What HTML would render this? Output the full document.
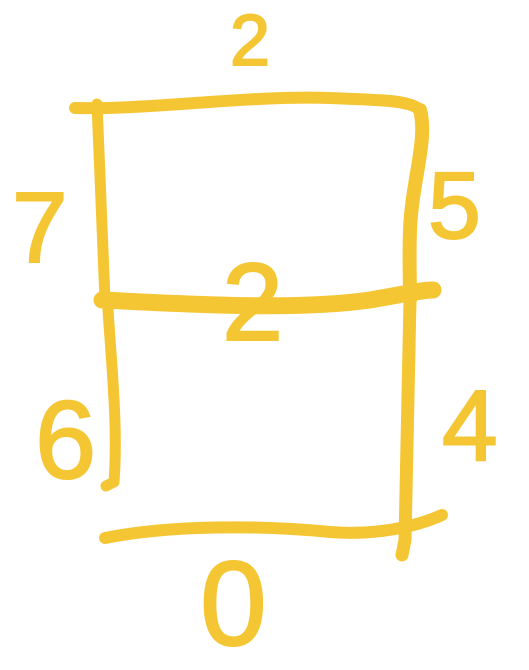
<!DOCTYPE html>
<html><head><meta charset="utf-8"><style>
html,body{margin:0;padding:0;background:#fff;width:529px;height:670px;overflow:hidden}
svg{display:block}
text{font-family:"Liberation Sans",sans-serif;fill:#F5C634;stroke:#F5C634;stroke-width:2}
</style></head><body>
<svg width="529" height="670" viewBox="0 0 529 670">
<g fill="none" stroke="#F5C634" stroke-linecap="round" stroke-linejoin="round">
<path d="M75,108 C150,110 250,95 330,98 C380,100 410,100 420,110" stroke-width="12"/>
<path d="M97,104 C100,170 102,240 105,300" stroke-width="11"/>
<path d="M420,110 C428,140 412,180 410,230 C409,260 410,280 410,300" stroke-width="14"/>
<path d="M102,300 C200,305 300,310 370,300 C400,295 420,290 433,290" stroke-width="17"/>
<path d="M108,310 C112,370 118,430 114,482 L106,486" stroke-width="11"/>
<path d="M410,300 C408,380 406,460 405,540 L402,555" stroke-width="13"/>
<path d="M105,538 C170,525 260,525 330,532 C380,536 420,525 442,515" stroke-width="12"/>
</g>
<text x="230" y="65" font-size="72">2</text>
<text x="12" y="262" font-size="100">7</text>
<text x="428" y="238" font-size="95">5</text>
<text x="222" y="340" font-size="110">2</text>
<text x="35" y="478" font-size="110">6</text>
<text x="442" y="460" font-size="100">4</text>
<text x="200" y="645" font-size="120">0</text>
</svg>
</body></html>
